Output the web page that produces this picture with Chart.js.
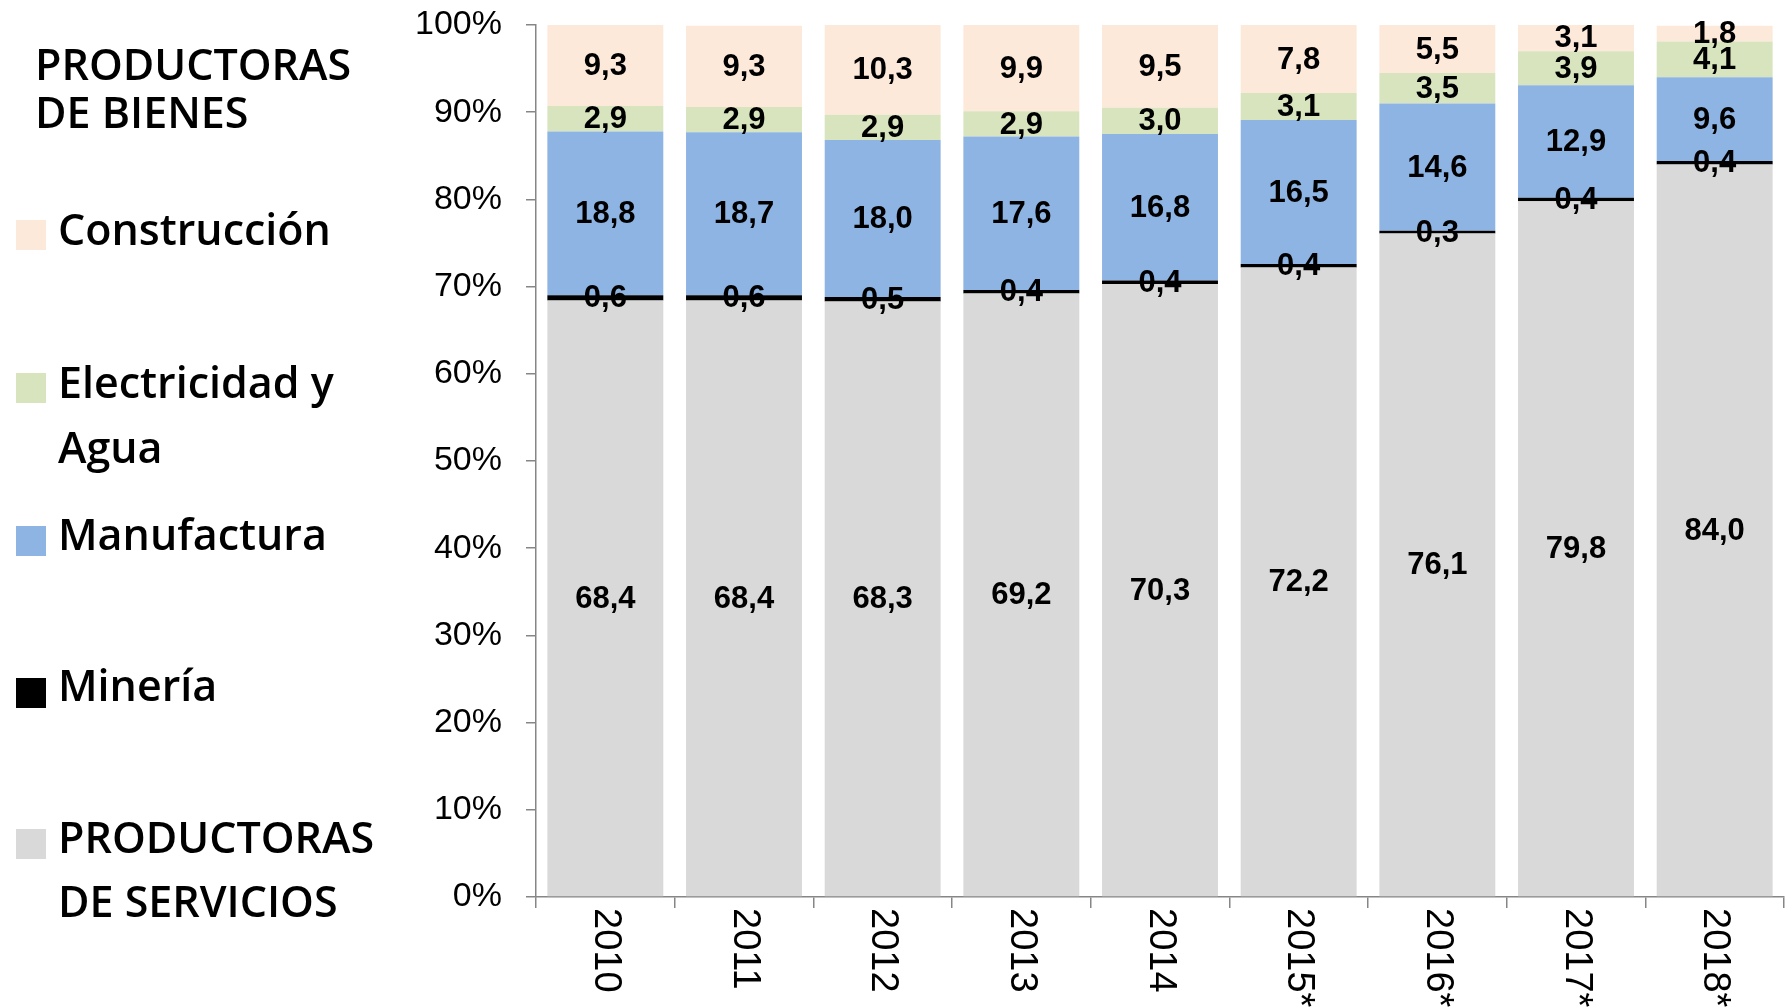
<!DOCTYPE html>
<html>
<head>
<meta charset="utf-8">
<script src="https://cdn.jsdelivr.net/npm/chart.js@4/dist/chart.umd.min.js"></script>
<style>
  html, body { margin: 0; padding: 0; background: #fff; }
  #wrap { position: relative; width: 1787px; height: 1007px; }
</style>
</head>
<body>
<div id="wrap"><canvas id="chart" width="1787" height="1007"></canvas></div>
<script>
// categories
const years = ['2010', '2011', '2012', '2013', '2014', '2015*', '2016*', '2017*', '2018*'];

// series values (% share)
const servicios    = [68.4, 68.4, 68.3, 69.2, 70.3, 72.2, 76.1, 79.8, 84.0];
const mineria      = [0.6, 0.6, 0.5, 0.4, 0.4, 0.4, 0.3, 0.4, 0.4];
const manufactura  = [18.8, 18.7, 18.0, 17.6, 16.8, 16.5, 14.6, 12.9, 9.6];
const electricidad = [2.9, 2.9, 2.9, 2.9, 3.0, 3.1, 3.5, 3.9, 4.1];
const construccion = [9.3, 9.3, 10.3, 9.9, 9.5, 7.8, 5.5, 3.1, 1.8];

// y tick values
const yTicks = [0, 10, 20, 30, 40, 50, 60, 70, 80, 90, 100];

// legend text
const legendTitle = ['PRODUCTORAS', 'DE BIENES'];
const legendLabels = {
  construccion: ['Construcción'],
  electricidad: ['Electricidad y', 'Agua'],
  manufactura: ['Manufactura'],
  mineria: ['Minería'],
  servicios: ['PRODUCTORAS', 'DE SERVICIOS']
};

const colors = {
  servicios: '#D9D9D9',
  mineria: '#000000',
  manufactura: '#8EB4E3',
  electricidad: '#D7E4BD',
  construccion: '#FDE9D9'
};

const axisColor = '#868686';
const tickFont = { family: '"Liberation Sans", Arial, sans-serif', size: 34 };

const fmt = v => v.toFixed(1).replace('.', ',');

// ✅ Value labels centred in each segment
const valueLabels = {
  id: 'valueLabels',
  afterDatasetsDraw(chart) {
    const ctx = chart.ctx;
    ctx.save();
    ctx.font = 'bold 31px "Liberation Sans", Arial, sans-serif';
    ctx.fillStyle = '#000';
    ctx.textAlign = 'center';
    ctx.textBaseline = 'middle';
    chart.data.datasets.forEach((ds, di) => {
      chart.getDatasetMeta(di).data.forEach((bar, i) => {
        const p = bar.getProps(['x', 'y', 'base'], true);
        ctx.fillText(fmt(ds.data[i]), p.x, (p.y + p.base) / 2 + 1);
      });
    });
    ctx.restore();
  }
};

// ✅ Vertical year labels (read top to bottom)
const yearLabels = {
  id: 'yearLabels',
  afterDraw(chart) {
    const ctx = chart.ctx;
    const xs = chart.scales.x;
    ctx.save();
    ctx.font = '38px "Liberation Sans", Arial, sans-serif';
    ctx.fillStyle = '#000';
    ctx.textAlign = 'left';
    ctx.textBaseline = 'middle';
    years.forEach((lbl, i) => {
      ctx.save();
      ctx.translate(xs.getPixelForValue(i), chart.chartArea.bottom + 11);
      ctx.rotate(Math.PI / 2);
      ctx.fillText(lbl, 0, 0);
      ctx.restore();
    });
    ctx.restore();
  }
};

// ✅ Side legend
const sideLegend = {
  id: 'sideLegend',
  afterDraw(chart) {
    const ctx = chart.ctx;
    ctx.save();
    ctx.font = '600 43px "Open Sans", "Noto Sans", sans-serif';
    ctx.fillStyle = '#000';
    ctx.textAlign = 'left';
    ctx.textBaseline = 'alphabetic';
    ctx.fillText(legendTitle[0], 35, 80);
    ctx.fillText(legendTitle[1], 35, 128);

    const items = [
      { key: 'construccion', top: 220, base: [245] },
      { key: 'electricidad', top: 373, base: [398, 463] },
      { key: 'manufactura', top: 526, base: [550] },
      { key: 'mineria', top: 678, base: [701] },
      { key: 'servicios', top: 829, base: [853, 917] }
    ];
    items.forEach(it => {
      ctx.fillStyle = colors[it.key];
      ctx.fillRect(16, it.top, 30, 30);
      ctx.fillStyle = '#000';
      legendLabels[it.key].forEach((line, j) => ctx.fillText(line, 58, it.base[j]));
    });
    ctx.restore();
  }
};

const mk = (key, data) => ({
  label: legendLabels[key].join(' '),
  data,
  backgroundColor: colors[key],
  borderWidth: 0,
  categoryPercentage: 0.836,
  barPercentage: 1.0
});

new Chart(document.getElementById('chart'), {
  type: 'bar',
  data: {
    labels: years,
    datasets: [
      mk('servicios', servicios),
      mk('mineria', mineria),
      mk('manufactura', manufactura),
      mk('electricidad', electricidad),
      mk('construccion', construccion)
    ]
  },
  options: {
    responsive: false,
    animation: false,
    events: [],
    layout: { padding: { top: 25, right: 3, left: 0, bottom: 0 } },
    plugins: {
      legend: { display: false },
      tooltip: { enabled: false }
    },
    scales: {
      x: {
        stacked: true,
        grid: { display: true, drawOnChartArea: false, drawTicks: true, tickLength: 11, color: axisColor, lineWidth: 1.5, offset: true },
        border: { color: axisColor, width: 1.5 },
        ticks: { display: false },
        afterFit: s => { s.height = 110; s.paddingLeft = 0; s.paddingRight = 0; }
      },
      y: {
        stacked: true,
        min: 0,
        max: 100,
        afterBuildTicks: s => { s.ticks = yTicks.map(v => ({ value: v })); },
        grid: { display: true, drawOnChartArea: false, drawTicks: true, tickLength: 10, color: axisColor, lineWidth: 1.5 },
        border: { color: axisColor, width: 1.5 },
        ticks: {
          font: tickFont,
          color: '#000',
          padding: 24,
          callback: v => v + '%'
        },
        afterFit: s => { s.width = 536; s.paddingTop = 0; s.paddingBottom = 0; }
      }
    }
  },
  plugins: [valueLabels, yearLabels, sideLegend]
});
</script>
</body>
</html>
